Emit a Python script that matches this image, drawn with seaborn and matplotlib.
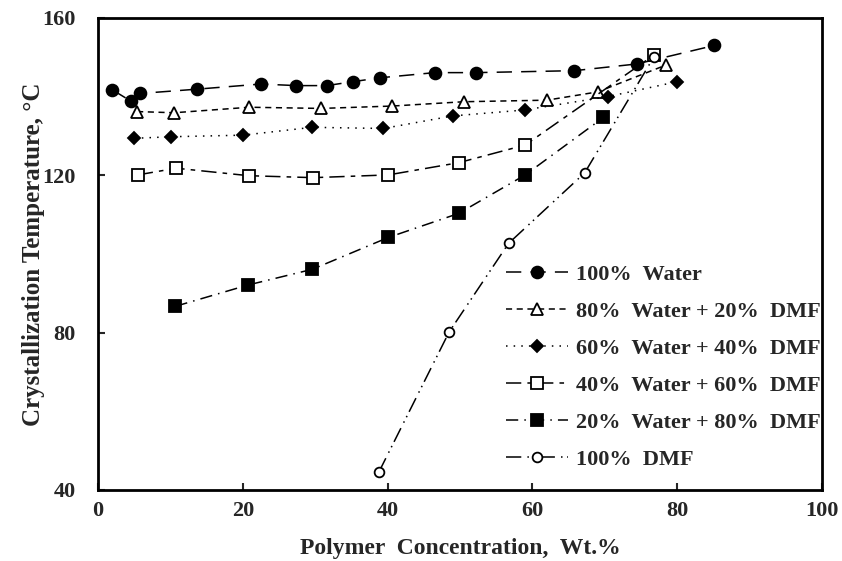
import seaborn as sns
import pandas as pd
import matplotlib.pyplot as plt

# values
water_x = [2.0, 4.5, 5.8, 13.7, 22.5, 27.4, 31.6, 35.2, 39.0, 46.5, 52.2, 65.8, 74.4, 85.1]
water_y = [141.7, 138.9, 140.8, 141.9, 143.2, 142.8, 142.8, 143.8, 144.8, 146.1, 146.1, 146.6, 148.3, 153.0]

w80_x = [5.4, 10.5, 20.9, 30.8, 40.6, 50.5, 62.0, 69.0, 78.4]
w80_y = [136.2, 135.9, 137.3, 137.0, 137.6, 138.7, 139.1, 141.2, 148.0]

w60_x = [5.0, 10.1, 20.0, 29.6, 39.4, 49.0, 58.9, 70.4, 80.0]
w60_y = [129.4, 129.8, 130.2, 132.2, 131.9, 135.1, 136.6, 140.0, 143.8]

w40_x = [5.5, 10.8, 20.8, 29.7, 40.1, 49.8, 59.0, 76.8]
w40_y = [120.1, 121.8, 119.9, 119.4, 120.1, 123.2, 127.7, 150.6]

w20_x = [10.7, 20.7, 29.6, 40.1, 49.8, 59.0, 69.8]
w20_y = [86.7, 92.1, 96.1, 104.2, 110.3, 120.1, 134.7]

dmf_x = [38.8, 48.5, 56.7, 67.2, 76.8]
dmf_y = [44.6, 80.2, 102.7, 120.6, 150.2]

labels = ["100%  Water", "80%  Water + 20%  DMF", "60%  Water + 40%  DMF",
          "40%  Water + 60%  DMF", "20%  Water + 80%  DMF", "100%  DMF"]

sns.set_theme(style="white")
plt.rcParams['font.family'] = ['Liberation Serif', 'DejaVu Serif']
plt.rcParams['font.weight'] = 'bold'

fig = plt.figure(figsize=(8.42, 5.61), dpi=100)
ax = fig.add_axes([0.1164, 0.1266, 0.860, 0.8414])

series = [
    (water_x, water_y, labels[0], 'o', 'black', 8.5, (0, (10, 6))),
    (w80_x, w80_y, labels[1], '^', 'white', 8.5, (0, (4, 3))),
    (w60_x, w60_y, labels[2], 'D', 'black', 6.5, (0, (1, 4))),
    (w40_x, w40_y, labels[3], 's', 'white', 8.5, (0, (10, 4, 3, 4))),
    (w20_x, w20_y, labels[4], 's', 'black', 8.5, (0, (8, 4, 1, 4))),
    (dmf_x, dmf_y, labels[5], 'o', 'white', 7, (0, (10, 4, 1, 3, 1, 3))),
]

for xs, ys, lab, mk, fc, ms, ls in series:
    df = pd.DataFrame({"x": xs, "y": ys})
    sns.lineplot(data=df, x="x", y="y", ax=ax, estimator=None, sort=False,
                 color='black', linewidth=1.1, linestyle=ls, marker=mk,
                 markersize=ms, markerfacecolor=fc, markeredgecolor='black',
                 markeredgewidth=1.3, label=lab)

ax.set_xlim(0, 100)
ax.set_ylim(40, 160)
ax.set_xticks([0, 20, 40, 60, 80, 100])
ax.set_yticks([40, 80, 120, 160])
ax.tick_params(direction='in', length=5, width=1.5, labelsize=16,
               bottom=True, left=True)
ax.tick_params(axis='x', pad=8)
ax.tick_params(axis='y', pad=16)
for t in ax.get_xticklabels() + ax.get_yticklabels():
    t.set_fontweight('bold')
for s in ax.spines.values():
    s.set_linewidth(2)
    s.set_color('black')

ax.set_xlabel("Polymer  Concentration,  Wt.%", fontsize=17, fontweight='bold', labelpad=12)
ax.set_ylabel("Crystallization Temperature, °C", fontsize=18, fontweight='bold', labelpad=-2)

leg = ax.legend(loc='upper left', bbox_to_anchor=(0.590, 0.545), bbox_transform=fig.transFigure,
                frameon=False, fontsize=16, handlelength=2.8, labelspacing=0.74,
                handletextpad=0.35, borderaxespad=0)
for t in leg.get_texts():
    t.set_fontweight('bold')

fig.savefig("out.png", dpi=100)
